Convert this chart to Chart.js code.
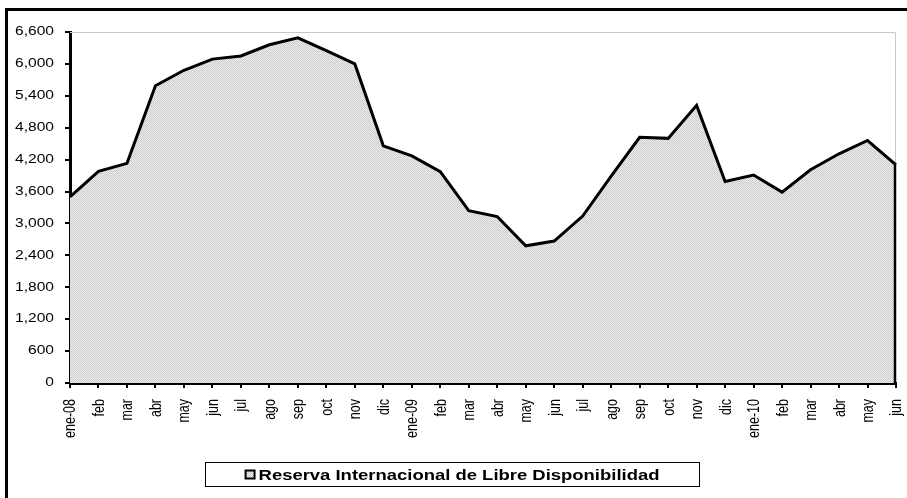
<!DOCTYPE html>
<html>
<head>
<meta charset="utf-8">
<script src="https://cdn.jsdelivr.net/npm/chart.js@4/dist/chart.umd.min.js"></script>
<style>
  html, body { margin: 0; padding: 0; background: #fff; }
  #wrap { position: relative; width: 907px; height: 498px; overflow: hidden; }
  #marco { position: absolute; left: 5px; top: 8px; width: 920px; height: 510px;
           border-top: 3px solid #000; border-left: 3px solid #000; }
  canvas { position: absolute; left: 0; top: 0; }
</style>
</head>
<body>
<div id="wrap">
  <div id="marco"></div>
  <canvas id="grafico" width="907" height="498"></canvas>
</div>
<script>
// Datos (millones US$)
const meses = ['ene-08','feb','mar','abr','may','jun','jul','ago','sep','oct','nov','dic',
               'ene-09','feb','mar','abr','may','jun','jul','ago','sep','oct','nov','dic',
               'ene-10','feb','mar','abr','may','jun'];
const reservaLibre = [3500, 3980, 4130, 5590, 5880, 6090, 6150, 6360, 6490, 6250, 6000, 4460,
                      4270, 3975, 3240, 3130, 2580, 2670, 3140, 3890, 4620, 4600, 5220, 3790,
                      3910, 3590, 4010, 4310, 4560, 4100];
const nombreSerie = 'Reserva Internacional de Libre Disponibilidad';
const ejeY = { min: 0, max: 6600, paso: 600 };

const fuente = '"Liberation Sans", Arial, sans-serif';
const estiramiento = 1.3; // el original está algo ensanchado en horizontal

// Trama gris punteada como en el original
function crearTrama() {
    const c = document.createElement('canvas');
    c.width = 2; c.height = 2;
    const g = c.getContext('2d');
    g.fillStyle = '#ececec'; g.fillRect(0, 0, 2, 2);
    g.fillStyle = '#cdcdcd'; g.fillRect(0, 0, 1, 1); g.fillRect(1, 1, 1, 1);
    return g.createPattern(c, 'repeat');
}
const trama = crearTrama();

// Borde gris del área de trazado + borde derecho del área
const bordesPlugin = {
    id: 'bordes',
    beforeDatasetsDraw(chart) {
        const { ctx, chartArea: a } = chart;
        ctx.save();
        ctx.strokeStyle = '#c8c8c8';
        ctx.lineWidth = 1;
        ctx.beginPath();
        ctx.moveTo(a.left, a.top + 0.5);
        ctx.lineTo(a.right - 0.5, a.top + 0.5);
        ctx.lineTo(a.right - 0.5, a.bottom);
        ctx.stroke();
        ctx.restore();
    },
    afterDatasetsDraw(chart) {
        const { ctx } = chart;
        const pts = chart.getDatasetMeta(0).data;
        const ult = pts[pts.length - 1];
        const y0 = chart.scales.y.getPixelForValue(0);
        ctx.save();
        ctx.strokeStyle = '#000';
        ctx.lineWidth = 2.5;
        ctx.beginPath();
        ctx.moveTo(ult.x - 1, ult.y);
        ctx.lineTo(ult.x - 1, y0);
        ctx.stroke();
        ctx.restore();
    }
};

// Etiquetas de los ejes dibujadas con el ensanche horizontal del original
const etiquetasPlugin = {
    id: 'etiquetas',
    afterDraw(chart) {
        const { ctx } = chart;
        const sy = chart.scales.y, sx = chart.scales.x;
        ctx.save();
        ctx.fillStyle = '#000';

        // eje Y
        ctx.font = '12px ' + fuente;
        ctx.textAlign = 'right';
        ctx.textBaseline = 'middle';
        sy.ticks.forEach((t, i) => {
            const y = sy.getPixelForTick(i);
            ctx.save();
            ctx.translate(sy.right - 16, y);
            ctx.scale(estiramiento, 1);
            ctx.fillText(t.value.toLocaleString('en-US'), 0, 0);
            ctx.restore();
        });

        // eje X (rotado)
        ctx.font = '12.5px ' + fuente;
        const arriba = sx.top + 16;
        sx.ticks.forEach((t, i) => {
            const x = sx.getPixelForTick(i);
            ctx.save();
            ctx.translate(x + 1, arriba);
            ctx.scale(estiramiento, 1);
            ctx.rotate(-Math.PI / 2);
            ctx.textAlign = 'right';
            ctx.textBaseline = 'middle';
            ctx.fillText(meses[i], 0, 0);
            ctx.restore();
        });
        ctx.restore();
    }
};

// Leyenda con recuadro (estilo Excel)
const leyendaPlugin = {
    id: 'leyendaCaja',
    afterDraw(chart) {
        const { ctx } = chart;
        const texto = chart.data.datasets[0].label;
        ctx.save();
        const caja = { x: 205.5, y: 462.5, w: 494, h: 24 };
        ctx.fillStyle = '#fff';
        ctx.fillRect(caja.x, caja.y, caja.w, caja.h);
        ctx.strokeStyle = '#000';
        ctx.lineWidth = 1;
        ctx.strokeRect(caja.x, caja.y, caja.w, caja.h);

        ctx.font = 'bold 15px ' + fuente;
        const ancho = ctx.measureText(texto).width * 1.23;
        const cx = caja.x + caja.w / 2, cy = caja.y + caja.h / 2;
        const total = 10 + 3 + ancho;
        const x0 = cx - total / 2;
        ctx.fillStyle = trama;
        ctx.fillRect(x0, cy - 4, 9, 8);
        ctx.lineWidth = 2;
        ctx.strokeRect(x0, cy - 4, 9, 8);
        ctx.fillStyle = '#000';
        ctx.textBaseline = 'middle';
        ctx.translate(x0 + 13, cy + 1);
        ctx.scale(1.23, 1);
        ctx.fillText(texto, 0, 0);
        ctx.restore();
    }
};

new Chart(document.getElementById('grafico').getContext('2d'), {
    type: 'line',
    data: {
        labels: meses,
        datasets: [{
            label: nombreSerie,
            data: reservaLibre,
            borderColor: '#000',
            borderWidth: 3,
            borderJoinStyle: 'miter',
            backgroundColor: trama,
            fill: 'origin',
            pointRadius: 0,
            tension: 0
        }]
    },
    options: {
        responsive: false,
        animation: false,
        events: [],
        layout: { padding: { top: 32, right: 11, left: 0, bottom: 0 } },
        plugins: {
            legend: { display: false },
            tooltip: { enabled: false }
        },
        scales: {
            x: {
                offset: false,
                grid: { display: true, drawOnChartArea: false, drawTicks: true, tickLength: 5, color: '#000', lineWidth: 2 },
                border: { display: true, color: '#000', width: 3 },
                ticks: {
                    color: 'rgba(0,0,0,0)',
                    font: { family: fuente, size: 12 },
                    maxRotation: 90, minRotation: 90,
                    autoSkip: false
                },
                afterFit(scale) {
                    scale.height = 115;
                    scale.paddingLeft = 0;
                    scale.paddingRight = 0;
                }
            },
            y: {
                min: ejeY.min,
                max: ejeY.max,
                grid: { display: true, drawOnChartArea: false, drawTicks: true, tickLength: 5, color: '#000', lineWidth: 2 },
                border: { display: true, color: '#000', width: 3 },
                ticks: {
                    stepSize: ejeY.paso,
                    color: 'rgba(0,0,0,0)',
                    font: { family: fuente, size: 12 }
                },
                afterFit(scale) {
                    scale.width = 70;
                    scale.paddingTop = 0;
                    scale.paddingBottom = 0;
                }
            }
        }
    },
    plugins: [bordesPlugin, etiquetasPlugin, leyendaPlugin]
});
</script>
</body>
</html>
